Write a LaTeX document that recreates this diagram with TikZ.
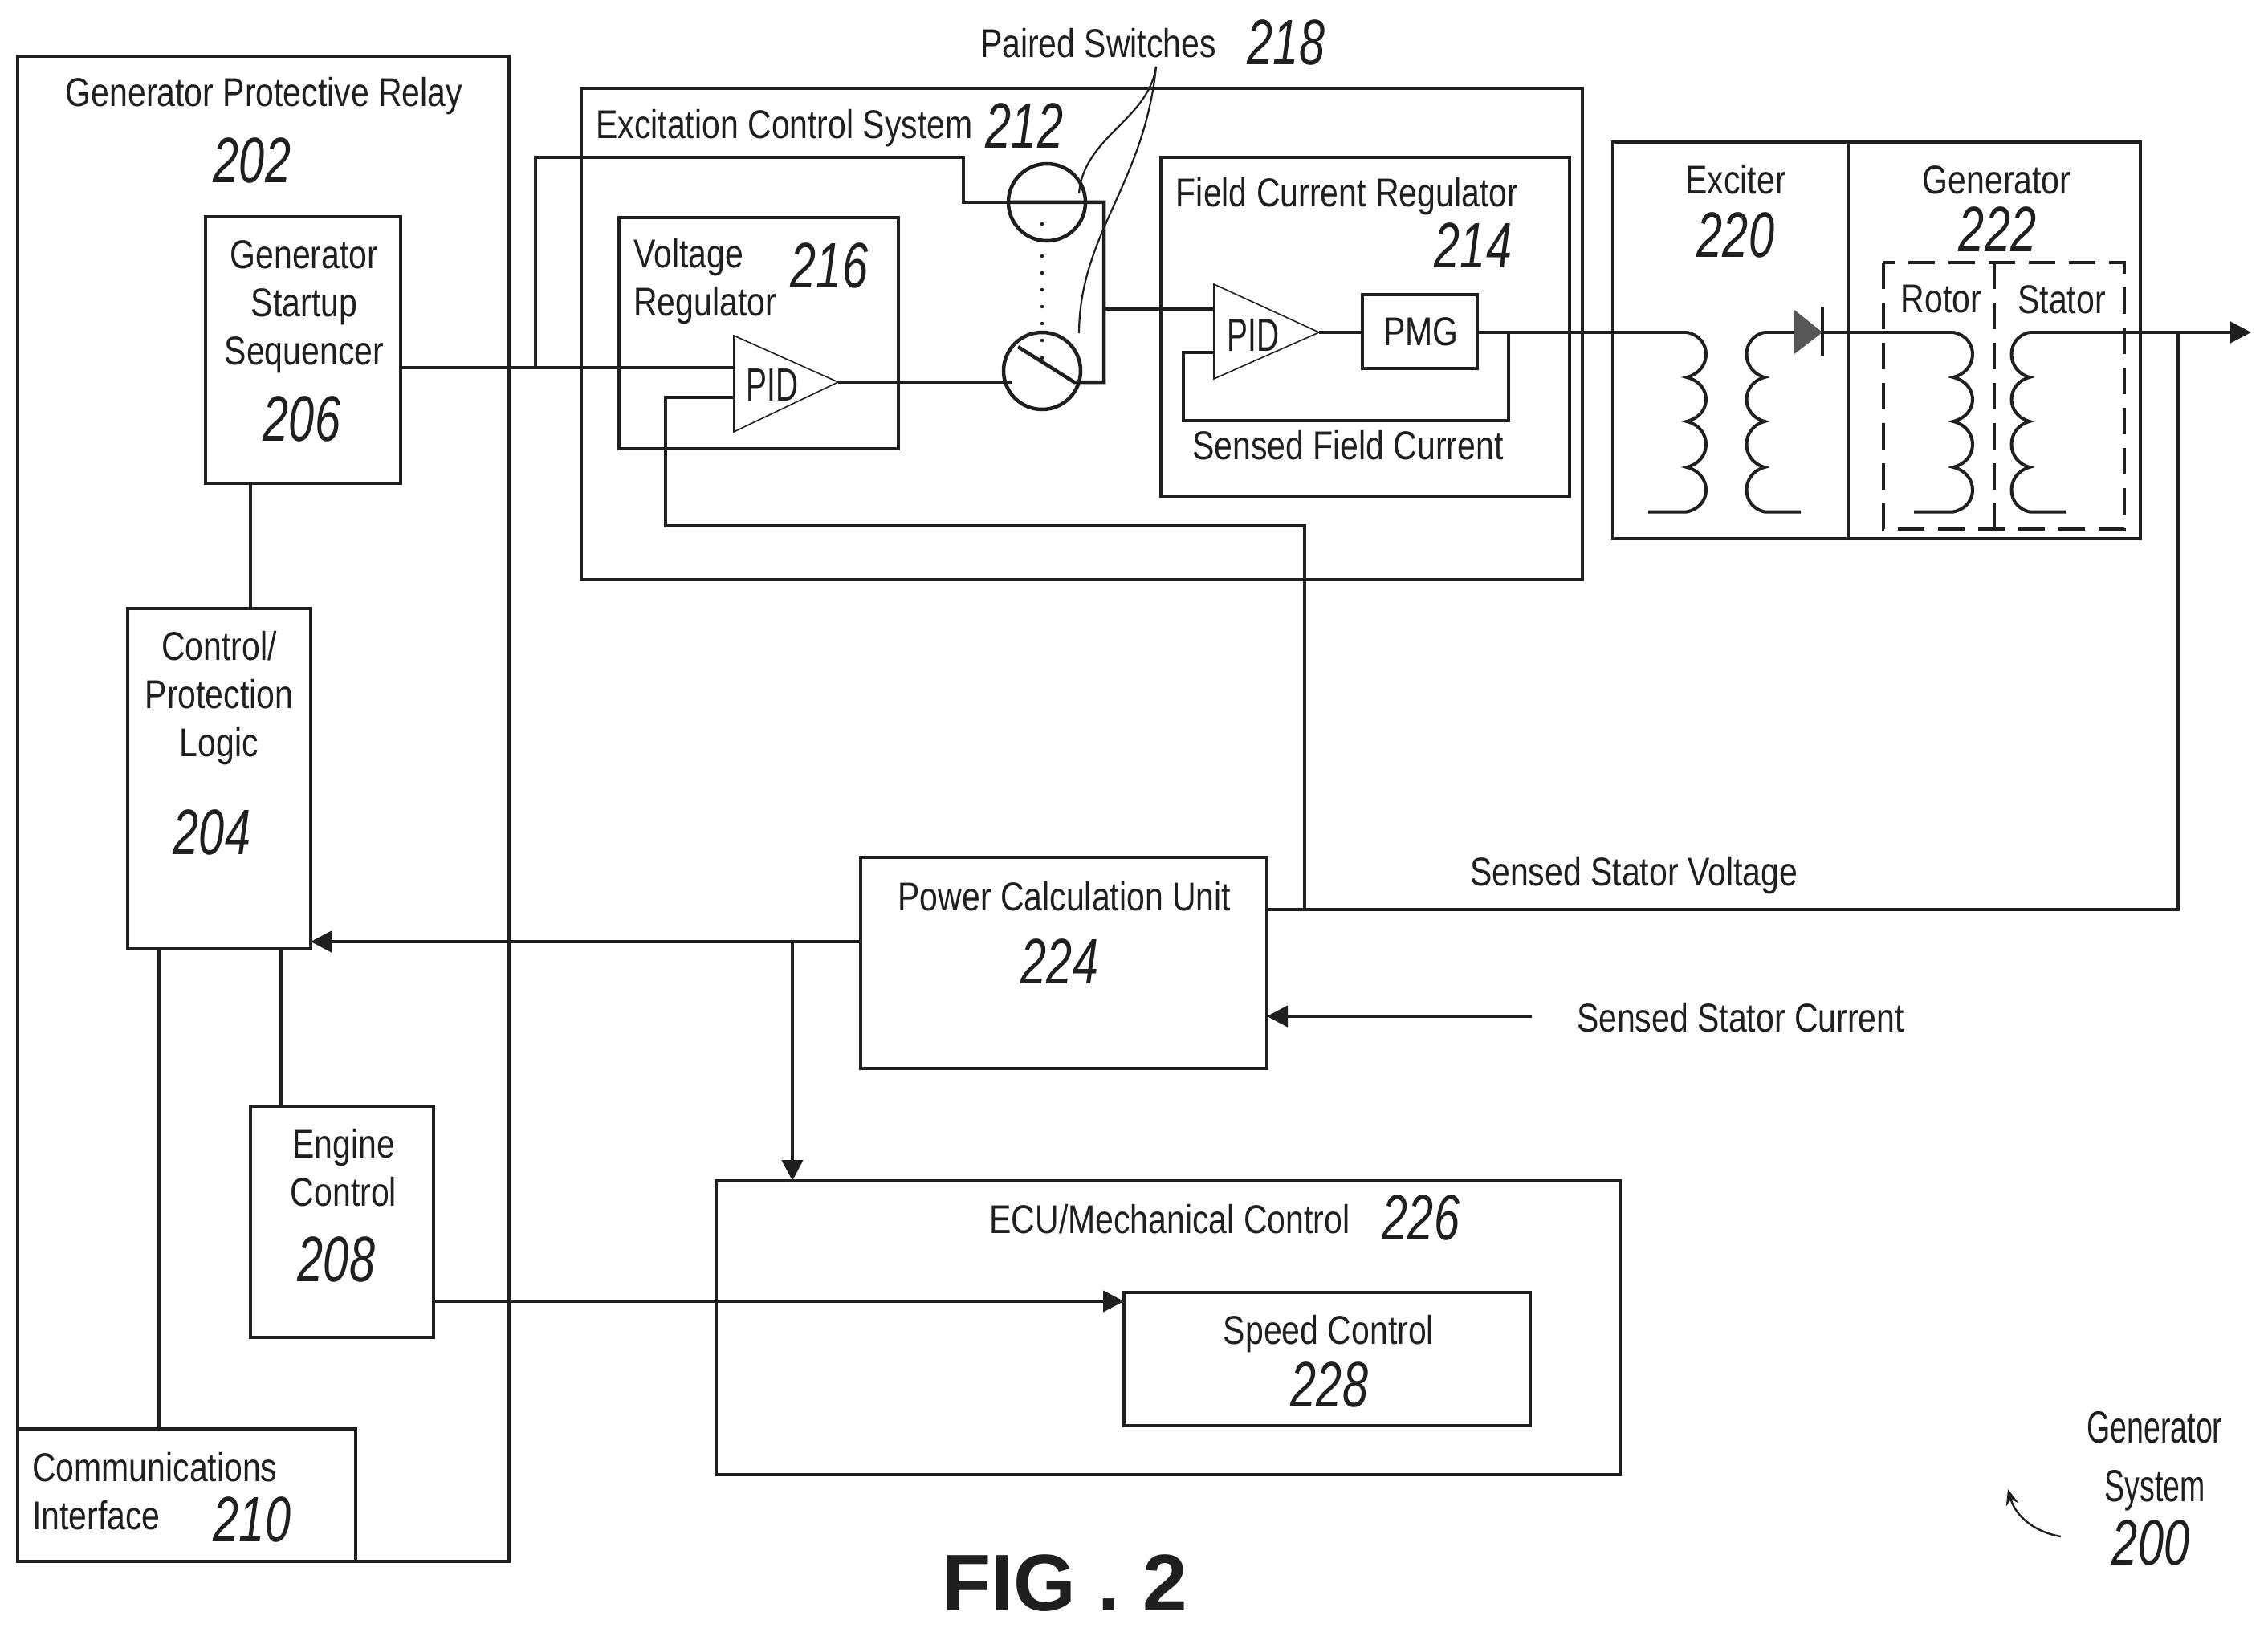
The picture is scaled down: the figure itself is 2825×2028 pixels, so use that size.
\documentclass[tikz,border=0pt]{standalone}
\usepackage{fontspec}
\setmainfont{Liberation Sans}
\usetikzlibrary{arrows.meta}
\definecolor{ink}{gray}{0.12}
\tikzset{
  boxs/.style={draw=ink,line width=4.5pt,outer sep=0pt,inner sep=0pt},
  wire/.style={draw=ink,line width=4.5pt,line join=miter},
  thinw/.style={draw=ink,line width=1.6pt},
  lab/.style={text=ink,font=\fontsize{50}{60}\selectfont,xscale=.82,transform shape,align=center,inner sep=0pt},
  labl/.style={lab,anchor=west,align=left},
  num/.style={text=ink,font=\fontsize{80}{90}\selectfont\itshape,xscale=.72,transform shape,inner sep=0pt},
  pidt/.style={text=ink,font=\fontsize{58}{60}\selectfont,xscale=.67,transform shape,inner sep=0pt},
  arr/.style={-{Triangle[length=26pt,width=26pt]}},
  dash box/.style={draw=ink,line width=4pt,dash pattern=on 33pt off 17pt},
}
\newcommand{\bx}[5]{%
  \pgfmathsetmacro{\bxcx}{(#2+#4)/2}\pgfmathsetmacro{\bxcy}{(#3+#5)/2}%
  \pgfmathsetmacro{\bxw}{#4-#2}\pgfmathsetmacro{\bxh}{#5-#3}%
  \node[boxs,minimum width=\bxw pt,minimum height=\bxh pt] (#1) at (\bxcx,\bxcy) {};}
\newcommand{\coilpath}[3]{% xc, ctrl x, tail x
  (#1,414) .. controls (#2,420) and (#2,462) .. (#1,470)
  .. controls (#2,478) and (#2,517) .. (#1,525)
  .. controls (#2,533) and (#2,574) .. (#1,582)
  .. controls (#2,590) and (#2,631) .. (#1,637.5) -- (#3,637.5)}
\begin{document}
\begin{tikzpicture}[x=1pt,y=-1pt]
\useasboundingbox[fill=white] (0,0) rectangle (2825,2028);
% boxes
\bx{r202}{22}{70}{634}{1945}
\bx{r206}{256}{270}{499}{602}
\bx{r204}{159}{758}{387}{1182}
\bx{r208}{312}{1378}{540}{1666}
\bx{r210}{22}{1780}{443}{1945}
\bx{r212}{724}{110}{1971}{722}
\bx{r216}{771}{271}{1119}{559}
\bx{r214}{1446}{196}{1955}{618}
\bx{pmg}{1697}{367}{1840}{459}
\bx{r220}{2009}{177}{2302}{671}
\bx{r222}{2302}{177}{2666}{671}
\bx{r224}{1072}{1068}{1578}{1331}
\bx{r226}{892}{1471}{2018}{1837}
\bx{r228}{1400}{1610}{1906}{1776}
% dashed rotor/stator enclosure
\draw[dash box] (2346,327) rectangle (2646,659);
\draw[dash box] (2484,327) -- (2484,659);
% named points
\coordinate (t1a) at (914,418); \coordinate (t1b) at (914,538); \coordinate (t1c) at (1044,476);
\coordinate (t2a) at (1512,354); \coordinate (t2b) at (1512,472); \coordinate (t2c) at (1643,414);
\coordinate (c1) at (2101,414); \coordinate (c2) at (2198,414);
\coordinate (c3) at (2433,414); \coordinate (c4) at (2528,414);
\coordinate (end) at (2804,414);
\coordinate (sj) at (2713,414);
\coordinate (d1) at (2235,414); \coordinate (d2) at (2270,414);
\coordinate (j1) at (667,458);
\coordinate (scur) at (1908,1266);
\coordinate (b1) at (1304,252); \coordinate (b2) at (1298,476);
% triangles
\draw[thinw] (t1a) -- (t1b) -- (t1c) -- cycle;
\draw[thinw] (t2a) -- (t2b) -- (t2c) -- cycle;
% switches
\node[boxs,circle,minimum size=96pt] (sw1) at (1304,252) {};
\node[boxs,circle,minimum size=96pt] (sw2) at (1298,462) {};
\fill[ink] (1298,279) circle (2.2) (1298,319) circle (2.2) (1298,340) circle (2.2) (1298,361) circle (2.2) (1298,382) circle (2.2) (1298,403) circle (2.2) (1298,424) circle (2.2) (1298,446) circle (2.2);
% wiring, left
\draw[wire] (r206.east |- j1) -- (t1a |- j1);
\draw[wire] (j1) -- (667,196) -- (1200,196) -- (1200,252) -- (sw1.west |- b1);
\draw[wire] (sw1.west |- b1) -- (1375,252) -- (1375,476) -- (1338,476) -- (1268,432);
\draw[wire] (t1c) -- (1261,476);
\draw[wire] (1375,385) -- (t2a |- 0,385);
\draw[wire] (t1b |- 0,495) -- (829,495) -- (829,655) -- (1625,655) -- (1625,1133);
\draw[wire] (t2b |- 0,439) -- (1474,439) -- (1474,524) -- (1879,524) -- (1879,414);
\draw[wire] (t2c) -- (pmg.west |- t2c);
\draw[wire] (pmg.east |- c1) -- (c1);
\draw[wire] (c2) -- (d1);
\draw[wire] (d2) -- (c3);
\draw[wire,arr] (c4) -- (end);
\draw[wire] (sj) -- (2713,1133) -- (r224.east |- 0,1133);
% coils
\draw[wire,line width=4pt] \coilpath{2101}{2133}{2053};
\draw[wire,line width=4pt] \coilpath{2198}{2168}{2243};
\draw[wire,line width=4pt] \coilpath{2433}{2465}{2384};
\draw[wire,line width=4pt] \coilpath{2528}{2498}{2573};
% diode
\fill[ink!75] (2235,386) -- (2270,414) -- (2235,441) -- cycle;
\draw[wire] (2270,382) -- (2270,443);
% leaders
\draw[thinw,line width=2.2pt] (1440,83) .. controls (1430,150) and (1350,170) .. (1344,241);
\draw[thinw,line width=2.2pt] (1440,83) .. controls (1425,230) and (1345,290) .. (1344,415);
% lower wiring
\draw[wire] (r206.south -| 312,0) -- (r204.north -| 312,0);
\draw[wire] (r204.south -| 350,0) -- (r208.north -| 350,0);
\draw[wire] (r204.south -| 198,0) -- (r210.north -| 198,0);
\draw[wire,arr] (r224.west |- 0,1173) -- (r204.east |- 0,1173);
\draw[wire,arr] (987,1173) -- (r226.north -| 987,0);
\draw[wire,arr] (r208.east |- 0,1621) -- (r228.west |- 0,1621);
\draw[wire,arr] (scur) -- (r224.east |- scur);
% curved pointer
\coordinate (p1) at (2567,1914); \coordinate (p2) at (2501,1855);
\draw[thinw,line width=2.4pt,-{Stealth[length=20pt,width=16pt]}] (p1) .. controls (2536,1909) and (2511,1890) .. (p2);
% text
\node[lab] (t202) at (329,120) {Generator Protective Relay};
\node[num] (n202) at (314,200) {202};
\node[lab] (t206) at (379,382) {Generator\\Startup\\Sequencer};
\node[num] (n206) at (376,522) {206};
\node[lab] (t204) at (273,870) {Control/\\Protection\\Logic};
\node[num] (n204) at (264,1037) {204};
\node[lab] (t208) at (428,1455) {Engine\\Control};
\node[num] (n208) at (419,1569) {208};
\node[labl] (t210) at (40,1858) {Communications\\Interface};
\node[num] (n210) at (314,1893) {210};
\node[lab] (t212) at (977,160) {Excitation Control System};
\node[num] (n212) at (1276,157) {212};
\node[lab] (t218) at (1368,54) {Paired Switches};
\node[num] (n218) at (1602,53) {218};
\node[labl] (t216) at (789,351) {Voltage\\Regulator};
\node[num] (n216) at (1033,331) {216};
\node[pidt] (p1t) at (962,480) {PID};
\node[pidt] (p2t) at (1561,418) {PID};
\node[lab] (t214) at (1678,245) {Field Current Regulator};
\node[num] (n214) at (1835,306) {214};
\node[lab] (tpmg) at (1770,413) {PMG};
\node[lab] (tsf) at (1679,555) {Sensed Field Current};
\node[lab] (t220) at (2162,224) {Exciter};
\node[num] (n220) at (2162,293) {220};
\node[lab] (t222) at (2487,224) {Generator};
\node[num] (n222) at (2488,286) {222};
\node[lab] (trot) at (2418,373) {Rotor};
\node[lab] (tsta) at (2568,373) {Stator};
\node[lab] (tssv) at (2035,1091) {Sensed Stator Voltage};
\node[lab] (tssc) at (2168,1268) {Sensed Stator Current};
\node[lab] (t224) at (1326,1117) {Power Calculation Unit};
\node[num] (n224) at (1320,1198) {224};
\node[lab] (t226) at (1457,1519) {ECU/Mechanical Control};
\node[num] (n226) at (1770,1517) {226};
\node[lab] (t228) at (1655,1662) {Speed Control};
\node[num] (n228) at (1656,1725) {228};
\node[text=ink,font=\fontsize{56}{73}\selectfont,xscale=.67,transform shape,align=center,inner sep=0pt] (t200) at (2684,1820) {Generator\\System};
\node[num] (n200) at (2679,1922) {200};
\node[text=ink,font=\fontsize{100}{100}\selectfont\bfseries,inner sep=0pt] (fig) at (1326,1972) {FIG . 2};
\end{tikzpicture}
\end{document}
